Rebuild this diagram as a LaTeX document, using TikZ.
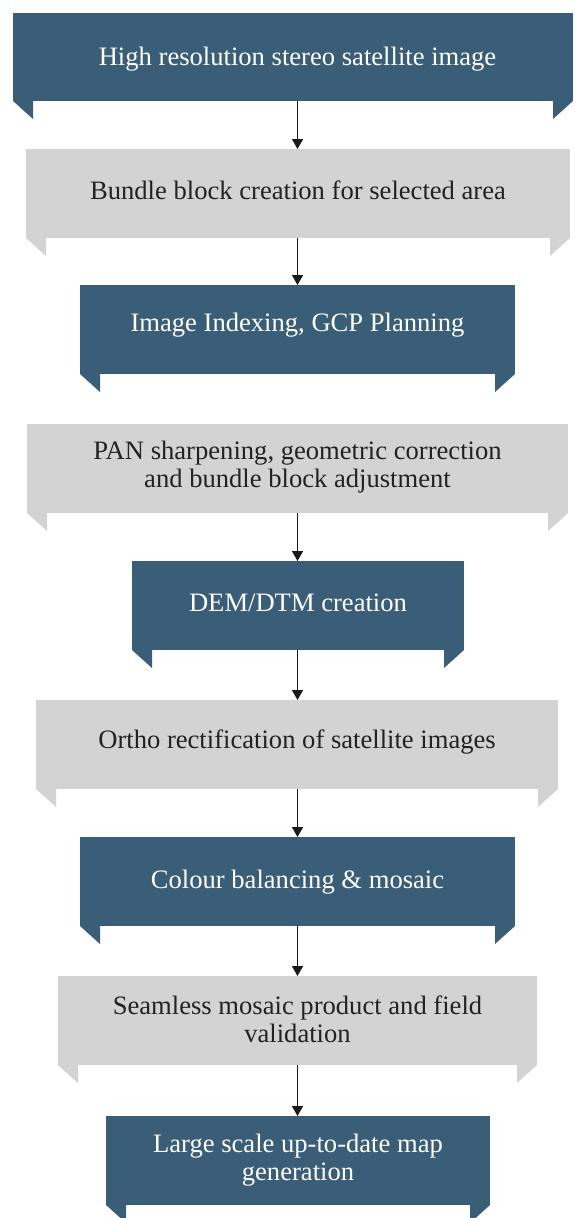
\documentclass[tikz,border=0pt]{standalone}
\usepackage{fontspec}
\setmainfont{Liberation Serif}
\usetikzlibrary{arrows.meta}
\definecolor{darkbox}{RGB}{58,94,119}
\definecolor{lightbox}{RGB}{211,211,211}
\definecolor{darktext}{RGB}{34,34,34}
\definecolor{arrowcol}{RGB}{26,26,26}
\tikzset{
  boxbase/.style={rectangle, inner sep=0pt, outer sep=0pt, anchor=north west},
  dbox/.style={boxbase, fill=darkbox},
  lbox/.style={boxbase, fill=lightbox},
  wtxt/.style={text=white, font=\rmfamily\fontsize{26.6}{28}\selectfont, align=center, inner sep=0pt},
  ktxt/.style={text=darktext, font=\rmfamily\fontsize{26.6}{28}\selectfont, align=center, inner sep=0pt},
  flowarrow/.style={draw=arrowcol, line width=1.6pt, -{Triangle[width=11pt,length=10pt]}}
}
\begin{document}
\begin{tikzpicture}[x=1pt,y=-1pt]
\useasboundingbox (0,0) rectangle (574,1218);
\clip (0,0) rectangle (574,1218);
\coordinate (axis) at (297.5,0);
% boxes
\node[dbox, minimum width=560pt, minimum height=88pt] (b1) at (13,13) {};
\node[lbox, minimum width=544pt, minimum height=89pt] (b2) at (26,149) {};
\node[dbox, minimum width=435pt, minimum height=89pt] (b3) at (80,285) {};
\node[lbox, minimum width=541pt, minimum height=89pt] (b4) at (27,424) {};
\node[dbox, minimum width=332pt, minimum height=89pt] (b5) at (132,561) {};
\node[lbox, minimum width=522pt, minimum height=89pt] (b6) at (36,700) {};
\node[dbox, minimum width=435pt, minimum height=89pt] (b7) at (80,837) {};
\node[lbox, minimum width=479pt, minimum height=89pt] (b8) at (58,976) {};
\node[dbox, minimum width=384pt, minimum height=89pt] (b9) at (106,1116) {};
% tabs
\foreach \n/\c in {b1/darkbox,b2/lightbox,b3/darkbox,b4/lightbox,b5/darkbox,b6/lightbox,b7/darkbox,b8/lightbox,b9/darkbox}{
  \fill[\c] (\n.south west) -- ++(20,0) -- ++(0,18) -- cycle;
  \fill[\c] (\n.south east) -- ++(-20,0) -- ++(0,18) -- cycle;
}
% texts
\node[wtxt] (t1) at (297.5,59) {High resolution stereo satellite image};
\node[ktxt] (t2) at (298,190) {Bundle block creation for selected area};
\node[wtxt] (t3) at (297.5,325) {Image Indexing, GCP Planning};
\node[ktxt] (t4) at (297.5,467) {PAN sharpening, geometric correction\\and bundle block adjustment};
\node[wtxt] (t5) at (298,602.5) {DEM/DTM creation};
\node[ktxt] (t6) at (297,741.5) {Ortho rectification of satellite images};
\node[wtxt] (t7) at (297.5,882.5) {Colour balancing \& mosaic};
\node[ktxt] (t8) at (297.5,1019.5) {Seamless mosaic product and field\\validation};
\node[wtxt] (t9) at (298,1160.5) {Large scale up-to-date map\\generation};
% arrows
\draw[flowarrow] (b1.south -| axis) -- (b2.north -| axis);
\draw[flowarrow] (b2.south -| axis) -- (b3.north -| axis);
\draw[flowarrow] (b4.south -| axis) -- (b5.north -| axis);
\draw[flowarrow] (b5.south -| axis) -- (b6.north -| axis);
\draw[flowarrow] (b6.south -| axis) -- (b7.north -| axis);
\draw[flowarrow] (b7.south -| axis) -- (b8.north -| axis);
\draw[flowarrow] (b8.south -| axis) -- (b9.north -| axis);
\end{tikzpicture}
\end{document}
